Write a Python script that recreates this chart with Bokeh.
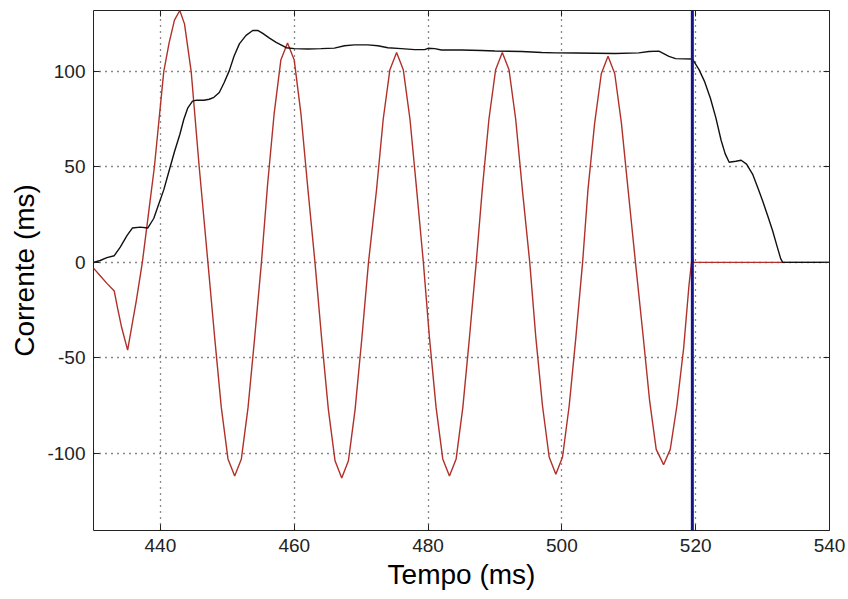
from bokeh.plotting import figure
from bokeh.models import Range1d, LinearAxis, FixedTicker, Span
from bokeh.embed import file_html
from bokeh.resources import INLINE

# ---- data ----
x_ticks = [440, 460, 480, 500, 520, 540]
y_ticks = [-100, -50, 0, 50, 100]
y_tick_labels = {-100: "-100", -50: "-50", 0: "0", 50: "50", 100: "100"}

red_t = [430, 431, 432, 433.1, 433.6, 434.2, 435.1, 435.8, 436.4, 437.3, 438.2, 439.1,
         440.5, 441.3, 442.1, 442.9, 443.6, 444.6, 445.8, 447.1,
         448.1, 449.1, 450.1, 451.1, 452.1, 453.1, 454.1, 455.1,
         456.0, 457.0, 458.0, 459.0, 460.0, 461.0, 462.0, 463.1,
         464.1, 465.1, 466.1, 467.1, 468.1, 469.1, 470.1, 471.1,
         472.3, 473.3, 474.3, 475.3, 476.3, 477.3, 478.3, 479.3,
         480.2, 481.2, 482.2, 483.2, 484.2, 485.2, 486.2, 487.2,
         488.1, 489.1, 490.1, 491.1, 492.1, 493.1, 494.1, 495.2,
         496.1, 497.1, 498.1, 499.1, 500.1, 501.1, 502.1, 503.1,
         503.9, 504.9, 505.9, 506.9, 507.9, 508.9, 509.9, 511.0,
         512.1, 513.1, 514.1, 515.2, 516.2, 517.2, 518.2, 519.0, 519.5, 519.6, 540]
red_i = [-3, -7, -11, -15, -24, -34, -46, -32, -20, 0, 25, 50,
         100, 115, 127, 132, 125, 100, 50, 0,
         -39, -76, -103, -112, -103, -76, -39, 0,
         40, 78, 106, 115, 106, 78, 40, 0,
         -40, -77, -104, -113, -104, -77, -40, 0,
         38, 75, 101, 110, 101, 75, 38, 0,
         -39, -76, -103, -112, -103, -76, -39, 0,
         38, 75, 101, 110, 101, 75, 38, 0,
         -39, -75, -102, -111, -102, -75, -39, 0,
         38, 73, 99, 108, 99, 73, 38, 0,
         -37, -72, -98, -106, -98, -75, -45, -12, 4, 0, 0]

black_t = [430, 431, 432, 433.1, 434, 435, 435.8, 437, 438.1, 439, 439.6, 440.5, 441.3,
           442.1, 442.9, 443.5, 444.1, 444.8, 445.4, 446.5, 447.3, 448, 448.8, 449.5,
           450.3, 451, 451.8, 452.8, 453.8, 454.6, 455.3, 456.3, 457.3, 458.8, 460, 462,
           464, 466, 467.5, 469, 471, 472.5, 474, 476, 478, 479.5, 480, 481, 482, 485,
           488, 490, 494, 497, 499, 502, 505, 508, 511.5, 513, 514.5, 516, 517, 519.5,
           520.5, 521.3, 522.2, 523, 523.8, 524.4, 525, 526, 526.8, 527.6, 528.5, 529.3,
           530, 530.8, 531.5, 532.2, 532.7, 533, 540]
black_i = [0, 1, 2.5, 3.5, 8, 14, 18, 18.5, 18, 23, 29, 38, 48,
           58, 67, 75, 81, 84.5, 85, 85, 85.5, 86.5, 89, 94,
           100.5, 108, 114.5, 119, 121.5, 121.5, 120, 117.5, 115.3, 112.5, 112, 111.8,
           112, 112.3, 113.5, 114, 114, 113.5, 112.5, 112, 111.5, 111.5, 112.2, 112, 111.3, 111.3,
           111, 110.8, 110.5, 110, 109.8, 109.7, 109.6, 109.5, 109.8, 110.5, 110.7, 108, 106.8, 106.6,
           101, 95, 86, 76, 64, 57, 52.5, 53, 53.5, 51.5, 46.3, 39,
           32.3, 24, 16.6, 8, 2, 0, 0]

trip_time = 519.5

x_label = "Tempo (ms)"
y_label = "Corrente (ms)"

FONT = "Liberation Sans"

p = figure(width=848, height=599, output_backend="svg", toolbar_location=None,
           x_range=Range1d(430, 540), y_range=Range1d(-140.5, 132),
           min_border_left=93, min_border_right=19, min_border_top=10, min_border_bottom=69)

p.background_fill_color = "white"
p.border_fill_color = "white"
p.outline_line_color = "#222222"
p.outline_line_width = 1

# grids: dotted
for g in (p.xgrid, p.ygrid):
    g.grid_line_color = "#111111"
    g.grid_line_dash = "1 5"
    g.grid_line_width = 1.3
p.xgrid.ticker = FixedTicker(ticks=x_ticks)
p.ygrid.ticker = FixedTicker(ticks=y_ticks)

def style_axis(ax, ticks, show_labels=True):
    ax.ticker = FixedTicker(ticks=ticks)
    ax.axis_line_color = None
    ax.major_tick_in = 6
    ax.major_tick_out = 0
    ax.major_tick_line_color = "#222222"
    ax.minor_tick_line_color = None
    if show_labels:
        ax.major_label_text_font = FONT
        ax.major_label_text_font_size = "19px"
        ax.major_label_text_color = "#222222"
        ax.major_label_standoff = 8
        ax.axis_label_text_font = FONT
        ax.axis_label_text_font_size = "28px"
        ax.axis_label_text_font_style = "normal"
        ax.axis_label_text_color = "#000000"
        ax.axis_label_standoff = 4
    else:
        ax.major_label_text_color = None
        ax.major_label_text_font_size = "1px"
        ax.major_label_standoff = 0

style_axis(p.xaxis[0], x_ticks)
style_axis(p.yaxis[0], y_ticks)
p.yaxis[0].major_label_overrides = y_tick_labels
p.xaxis[0].axis_label = x_label
p.yaxis[0].axis_label = y_label

top_ax = LinearAxis()
style_axis(top_ax, x_ticks, show_labels=False)
p.add_layout(top_ax, "above")
right_ax = LinearAxis()
style_axis(right_ax, y_ticks, show_labels=False)
p.add_layout(right_ax, "right")

p.line(red_t, red_i, line_color="#b0302a", line_width=1.4)
p.line(black_t, black_i, line_color="#111111", line_width=1.4)

p.add_layout(Span(location=trip_time, dimension="height", line_color="#14148f", line_width=3))

open("out.html", "w").write(file_html(p, INLINE))
